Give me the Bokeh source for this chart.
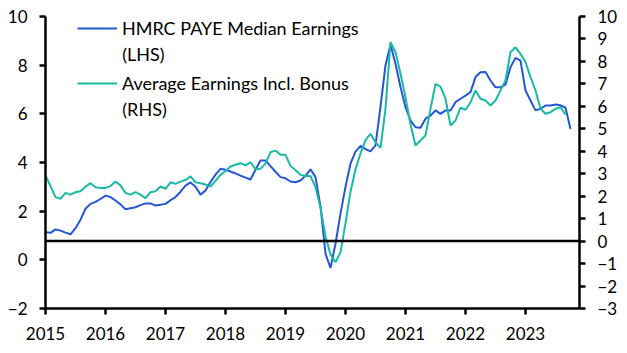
import numpy as np
from bokeh.plotting import figure
from bokeh.models import Range1d, LinearAxis, FixedTicker, Span, Legend, LegendItem, Label
from bokeh.embed import file_html
from bokeh.resources import INLINE

# Monthly data from Jan 2015
hmrc_median = [
    1.13, 1.11, 1.25, 1.20, 1.12, 1.05, 1.30, 1.65, 2.10, 2.30, 2.38, 2.50,
    2.64, 2.58, 2.44, 2.28, 2.08, 2.12, 2.16, 2.25, 2.32, 2.32, 2.23, 2.26,
    2.30, 2.45, 2.58, 2.80, 3.05, 3.18, 3.00, 2.68, 2.85, 3.20, 3.50, 3.74,
    3.70, 3.63, 3.55, 3.46, 3.38, 3.30, 3.70, 4.08, 4.08, 3.85, 3.62, 3.40,
    3.35, 3.22, 3.19, 3.26, 3.45, 3.72, 3.40, 2.20, 0.25, -0.33, 0.66, 1.90,
    3.00, 3.95, 4.45, 4.68, 4.55, 4.46, 4.70, 6.30, 8.00, 8.85, 8.05, 7.10,
    6.27, 5.73, 5.45, 5.43, 5.80, 5.93, 6.14, 6.00, 6.14, 6.14, 6.48, 6.62,
    6.75, 6.89, 7.51, 7.71, 7.72, 7.37, 7.09, 7.09, 7.20, 7.92, 8.30, 8.19,
    6.96, 6.55, 6.14, 6.21, 6.34, 6.34, 6.38, 6.35, 6.25, 5.38,
]
awe_incl_bonus = [
    2.92, 2.45, 1.96, 1.88, 2.15, 2.07, 2.18, 2.22, 2.42, 2.58, 2.40, 2.37,
    2.37, 2.45, 2.65, 2.48, 2.15, 2.07, 2.18, 2.07, 1.91, 2.18, 2.22, 2.43,
    2.33, 2.62, 2.55, 2.65, 2.72, 2.88, 2.62, 2.58, 2.52, 2.43, 2.68, 2.95,
    3.12, 3.32, 3.40, 3.47, 3.37, 3.51, 3.20, 3.22, 3.45, 3.96, 4.03, 3.84,
    3.84, 3.35, 3.15, 2.95, 2.90, 2.90, 2.40, 1.50, 0.20, -0.60, -0.94, -0.50,
    0.80, 2.20, 3.20, 3.90, 4.50, 4.78, 4.40, 4.15, 5.90, 8.86, 8.41, 7.45,
    6.40, 5.20, 4.26, 4.48, 4.70, 5.89, 7.00, 6.88, 6.34, 5.15, 5.37, 5.94,
    5.85, 6.18, 6.71, 6.34, 6.26, 6.04, 6.26, 6.71, 7.15, 8.41, 8.63, 8.34,
    7.97, 7.30, 6.71, 5.89, 5.67, 5.74, 5.89, 5.96, 5.64,
]
x_years = [2015, 2016, 2017, 2018, 2019, 2020, 2021, 2022, 2023]
left_ticks = [-2, 0, 2, 4, 6, 8, 10]
right_ticks = list(range(-3, 11))
label_hmrc = "HMRC PAYE Median Earnings"
label_awe = "Average Earnings Incl. Bonus"

t_hmrc = [2015 + i / 12 for i in range(len(hmrc_median))]
t_awe = [2015 + i / 12 for i in range(len(awe_incl_bonus))]

FONT = "Lato"
FS = "17px"
LFS = "18px"
BLUE = "#2457D6"
TEAL = "#19B9A5"

p = figure(width=627, height=353, output_backend="svg", toolbar_location=None,
           x_range=Range1d(2015, 2023.9), y_range=Range1d(-2, 10),
           min_border_left=45, min_border_right=48, min_border_top=16, min_border_bottom=45)
p.extra_y_ranges = {"right": Range1d(-3, 10)}
p.outline_line_color = None
p.grid.visible = False
p.background_fill_color = "white"
p.border_fill_color = "white"

def style_axis(ax):
    ax.axis_line_width = 2.5
    ax.axis_line_color = "black"
    ax.major_tick_line_width = 2.5
    ax.major_tick_line_color = "black"
    ax.major_tick_out = 6
    ax.major_tick_in = 0
    ax.minor_tick_line_color = None
    ax.major_label_text_font = FONT
    ax.major_label_text_font_size = FS
    ax.major_label_text_color = "black"
    ax.major_label_standoff = 12

p.xaxis.ticker = FixedTicker(ticks=x_years)
p.yaxis.ticker = FixedTicker(ticks=left_ticks)
style_axis(p.xaxis[0])
style_axis(p.yaxis[0])

raxis = LinearAxis(y_range_name="right", ticker=FixedTicker(ticks=right_ticks))
style_axis(raxis)
p.add_layout(raxis, "right")

zero = Span(location=0, dimension="width", y_range_name="right",
            line_color="black", line_width=2.5)
p.add_layout(zero)

r1 = p.line(t_hmrc, hmrc_median, line_color=BLUE, line_width=2)
r2 = p.line(t_awe, awe_incl_bonus, line_color=TEAL, line_width=2, y_range_name="right")

legend = Legend(items=[LegendItem(label=label_hmrc, renderers=[r1]),
                       LegendItem(label=label_awe, renderers=[r2])],
                location=(32, 214), orientation="vertical",
                glyph_width=40, glyph_height=22, label_height=22, spacing=33,
                label_standoff=5, padding=0, margin=0,
                border_line_color=None, background_fill_alpha=0,
                label_text_font=FONT, label_text_font_size=LFS, label_text_color="black")
p.add_layout(legend)

for txt, yv in (("(LHS)", 8.46), ("(RHS)", 6.20)):
    p.add_layout(Label(x=2016.28, y=yv, text=txt, text_font=FONT, text_font_size=LFS,
                       text_baseline="middle", text_color="black"))

open("out.html", "w").write(file_html(p, INLINE))
